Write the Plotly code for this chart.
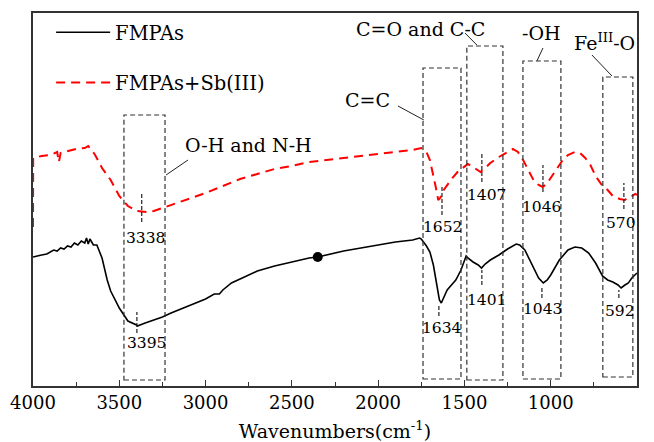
import plotly.graph_objects as go

# ---------------- data ----------------
fmpas_wn = [4000, 3980, 3950, 3920, 3900, 3880, 3860, 3840, 3820, 3800, 3780, 3760, 3740, 3720,
            3700, 3690, 3680, 3670, 3660, 3650, 3630, 3600, 3570, 3550, 3500, 3450, 3400, 3395,
            3350, 3300, 3250, 3200, 3100, 3000, 2950, 2920, 2900, 2850, 2800, 2700, 2600, 2500,
            2400, 2350, 2300, 2200, 2100, 2000, 1900, 1800, 1760, 1750, 1740, 1720, 1700, 1680,
            1660, 1645, 1634, 1620, 1600, 1570, 1550, 1520, 1500, 1490, 1480, 1450, 1420, 1401,
            1380, 1350, 1300, 1250, 1200, 1180, 1150, 1120, 1100, 1070, 1043, 1020, 1000, 950,
            900, 860, 820, 780, 740, 700, 670, 640, 610, 592, 570, 550, 530, 510, 500]
fmpas_t = [129, 130, 131, 132, 134, 136, 135, 138, 137, 140, 139, 143, 141, 145,
           143, 148, 142, 147, 144, 141, 141, 128, 106, 95, 78, 65, 61, 60,
           63, 66, 69, 73, 80, 87, 92, 92, 96, 103, 107, 115, 120, 124,
           128, 129, 131, 135, 138, 141, 144, 146, 148, 147, 145, 140, 134, 121,
           101, 86, 83, 88, 96, 102, 106, 116, 126, 130, 128, 124, 121, 118,
           122, 126, 131, 137, 142, 141, 136, 126, 118, 108, 103, 106, 111, 126,
           136, 139, 138, 133, 123, 110, 106, 104, 101, 98, 101, 103, 108, 111, 113]

sb_wn = [4000, 3999, 3950, 3900, 3860, 3850, 3840, 3800, 3750, 3700, 3680, 3660, 3640, 3600,
         3550, 3500, 3450, 3400, 3338, 3300, 3250, 3200, 3100, 3000, 2900, 2800, 2700, 2600,
         2500, 2400, 2300, 2200, 2100, 2000, 1900, 1800, 1750, 1720, 1700, 1680, 1660, 1652,
         1640, 1620, 1600, 1570, 1540, 1510, 1480, 1450, 1420, 1407, 1380, 1350, 1300, 1250,
         1220, 1190, 1160, 1130, 1100, 1070, 1046, 1020, 1000, 960, 930, 900, 860, 830, 800,
         770, 740, 700, 670, 640, 600, 570, 550, 530, 510, 500]
sb_t = [159, 228, 230, 231, 234, 224, 233, 235, 237, 238, 240, 236, 231, 218,
        206, 190, 180, 175, 174, 175, 178, 181, 187, 193, 200, 207, 212, 217,
        220, 224, 226, 228, 230, 232, 234, 236, 238, 234, 226, 211, 194, 186,
        188, 196, 201, 208, 214, 218, 222, 219, 216, 214, 218, 223, 229, 234,
        237, 234, 226, 216, 206, 201, 199, 203, 208, 218, 226, 231, 234, 233, 228,
        221, 210, 200, 196, 190, 187, 186, 189, 190, 192, 191]

dot_wn = [2350]
dot_t = [129]

# band boxes: (label, wn_left, wn_right, bottom, top)
band_labels = ["O-H and N-H", "C=C", "C=O and C-C", "-OH", "Fe<sup>III</sup>-O"]
band_left = [3473, 1740, 1486, 1161, 698]
band_right = [3235, 1520, 1277, 941, 524]
band_bottom = [6, 7, 6, 7, 9]
band_top = [271, 318, 340, 325, 309]
# label text position and leader line (from -> to)
band_text_x = [2754, 2059, 1752, 1051, 686]
band_text_y = [241, 286, 357, 353, 344]
lead_x0 = [3102, 1885, 1497, 1045, 761]
lead_y0 = [226, 280, 353, 338, 331]
lead_x1 = [3229, 1735, 1428, 1080, 645]
lead_y1 = [211, 266, 341, 325, 310]

# peak labels: text, marker x, marker y0, y1, label x, label y
peak_text = ["3338", "3395", "1652", "1407", "1046", "570", "1634", "1401", "1043", "592"]
peak_mark_x = [3370, 3398, 1630, 1399, 1045, 576, 1648, 1399, 1051, 605]
peak_mark_y0 = [164, 53, 171, 204, 194, 177, 70, 101, 88, 88]
peak_mark_y1 = [194, 74, 199, 233, 221, 203, 81, 116, 98, 96]
peak_lab_x = [3348, 3345, 1625, 1375, 1051, 593, 1630, 1370, 1045, 599]
peak_lab_y = [148, 43, 159, 191, 179, 163, 58, 86, 77, 75]

x_ticks = [4000, 3500, 3000, 2500, 2000, 1500, 1000, 500]

FONT = "DejaVu Serif"

fig = go.Figure()
fig.add_trace(go.Scatter(x=fmpas_wn, y=fmpas_t, mode="lines", name="FMPAs",
                         line=dict(color="black", width=1.6), legendgroup="a"))
fig.add_trace(go.Scatter(x=sb_wn, y=sb_t, mode="lines", name="FMPAs+Sb(III)",
                         line=dict(color="#ff0000", width=2, dash="9px,6px"), legendgroup="b"))
fig.add_trace(go.Scatter(x=dot_wn, y=dot_t, mode="markers", showlegend=False,
                         marker=dict(color="black", size=10)))

shapes = []
annotations = []
for i in range(len(band_labels)):
    shapes.append(dict(type="rect", xref="x", yref="y", x0=band_left[i], x1=band_right[i],
                       y0=band_bottom[i], y1=band_top[i],
                       line=dict(color="#333", width=1.2, dash="5px,3px")))
    shapes.append(dict(type="line", xref="x", yref="y", x0=lead_x0[i], y0=lead_y0[i],
                       x1=lead_x1[i], y1=lead_y1[i], line=dict(color="#222", width=1)))
    annotations.append(dict(x=band_text_x[i], y=band_text_y[i], xref="x", yref="y",
                            text=band_labels[i], showarrow=False,
                            font=dict(family=FONT, size=19, color="black")))
for i in range(len(peak_text)):
    shapes.append(dict(type="line", xref="x", yref="y", x0=peak_mark_x[i], x1=peak_mark_x[i],
                       y0=peak_mark_y0[i], y1=peak_mark_y1[i],
                       line=dict(color="#222", width=1.2, dash="4px,2px")))
    annotations.append(dict(x=peak_lab_x[i], y=peak_lab_y[i], xref="x", yref="y",
                            text=peak_text[i], showarrow=False,
                            font=dict(family=FONT, size=15.5, color="black")))

fig.update_layout(
    width=654, height=442,
    margin=dict(l=33, r=17, t=13, b=56, autoexpand=False),
    paper_bgcolor="white", plot_bgcolor="white",
    font=dict(family=FONT, size=19, color="black"),
    shapes=shapes, annotations=annotations,
    showlegend=True,
    legend=dict(x=0.03, y=1.0, xanchor="left", yanchor="top", bgcolor="rgba(0,0,0,0)",
                itemwidth=54, tracegroupgap=22, font=dict(family=FONT, size=19.5)),
    xaxis=dict(range=[4000, 500], tickvals=x_ticks, ticks="inside", ticklen=6, tickwidth=1.2,
               tickcolor="#333", showline=True, linecolor="#333", linewidth=1.5, mirror=True,
               showgrid=False, zeroline=False, automargin=False,
               minor=dict(dtick=250, ticks="inside", ticklen=4, tickcolor="#333", showgrid=False),
               tickfont=dict(family=FONT, size=18),
               title=dict(text="Wavenumbers(cm<sup>-1</sup>)", font=dict(family=FONT, size=19),
                          standoff=12)),
    yaxis=dict(range=[0, 373], showticklabels=False, ticks="", showline=True, linecolor="#333",
               linewidth=1.5, mirror=True, showgrid=False, zeroline=False, automargin=False),
)

fig.write_html("out.html")
